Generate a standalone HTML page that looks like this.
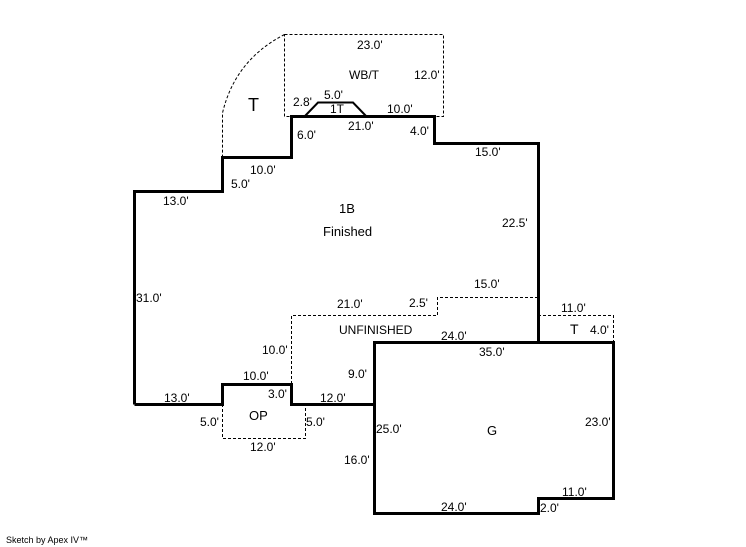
<!DOCTYPE html>
<html><head><style>body{margin:0;background:#fff}svg{display:block}text{font-family:"Liberation Sans",Arial,sans-serif;font-size:12px;fill:#000}</style></head><body>
<svg width="746" height="547" viewBox="0 0 746 547">
<g fill="none" stroke="#000" stroke-width="1" stroke-dasharray="3,2">
<rect x="284.5" y="34.5" width="159" height="82"/>
<path d="M284.5 34.5 Q235 60 222.5 113 L222.5 157"/>
<path d="M291.5 384 L291.5 315.5 L437.5 315.5 L437.5 297.5 L538 297.5"/>
<path d="M538 315.5 L613.5 315.5 L613.5 342"/>
<path d="M222.5 404 L222.5 438.5 L305.5 438.5 L305.5 404"/>
</g>
<g fill="none" stroke="#000" stroke-width="3" stroke-linejoin="miter">
<path d="M134.5 404.5 L134.5 191.5 L222.5 191.5 L222.5 157.5 L291.5 157.5 L291.5 116.5 L434.5 116.5 L434.5 143.5 L538.5 143.5 L538.5 342"/>
<path d="M134.5 404.5 L222.5 404.5 L222.5 384.5 L291.5 384.5 L291.5 404.5 L374 404.5"/>
<path d="M374.5 342.5 L613.5 342.5 L613.5 498.5 L538.5 498.5 L538.5 513.5 L374.5 513.5 Z"/>
</g>
<path d="M305 116 L318 102.5 L353 102.5 L366 116" fill="none" stroke="#000" stroke-width="2"/>
<text x="357" y="49">23.0'</text>
<text x="349" y="79">WB/T</text>
<text x="414" y="79">12.0'</text>
<text x="248" y="111" style="font-size:18px">T</text>
<text x="293" y="106">2.8'</text>
<text x="324" y="99">5.0'</text>
<text x="330" y="113">1T</text>
<text x="387" y="113">10.0'</text>
<text x="348" y="130">21.0'</text>
<text x="297" y="139">6.0'</text>
<text x="410" y="135">4.0'</text>
<text x="475" y="156">15.0'</text>
<text x="250" y="174">10.0'</text>
<text x="231" y="188">5.0'</text>
<text x="163" y="205">13.0'</text>
<text x="339" y="213" style="font-size:13px">1B</text>
<text x="323" y="236" style="font-size:13px">Finished</text>
<text x="502" y="227">22.5'</text>
<text x="136" y="302">31.0'</text>
<text x="474" y="288">15.0'</text>
<text x="337" y="308">21.0'</text>
<text x="409" y="307">2.5'</text>
<text x="561" y="312">11.0'</text>
<text x="339" y="334">UNFINISHED</text>
<text x="441" y="340">24.0'</text>
<text x="570" y="334" style="font-size:14px">T</text>
<text x="590" y="334">4.0'</text>
<text x="262" y="354">10.0'</text>
<text x="479" y="356">35.0'</text>
<text x="348" y="378">9.0'</text>
<text x="243" y="380">10.0'</text>
<text x="268" y="398">3.0'</text>
<text x="164" y="402">13.0'</text>
<text x="320" y="402">12.0'</text>
<text x="200" y="426">5.0'</text>
<text x="249" y="420" style="font-size:13px">OP</text>
<text x="306" y="426">5.0'</text>
<text x="376" y="433">25.0'</text>
<text x="487" y="435" style="font-size:13px">G</text>
<text x="585" y="426">23.0'</text>
<text x="250" y="451">12.0'</text>
<text x="344" y="464">16.0'</text>
<text x="562" y="496">11.0'</text>
<text x="441" y="511">24.0'</text>
<text x="540" y="512">2.0'</text>
<text x="6" y="543" style="font-size:9px">Sketch by Apex IV™</text>
</svg>
</body></html>
